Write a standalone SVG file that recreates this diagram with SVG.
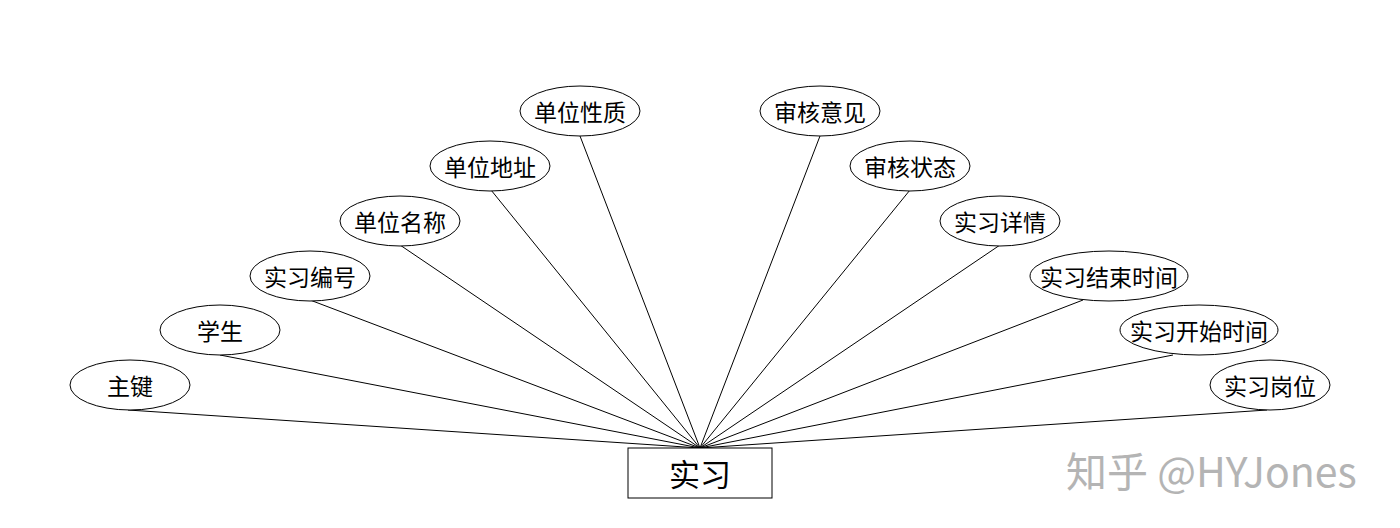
<svg xmlns="http://www.w3.org/2000/svg" width="1400" height="528" viewBox="0 0 1400 528">
<style>
.attr ellipse{fill:#fff;stroke:#000;stroke-width:1}
.attr text{font-family:"Noto Sans CJK SC","Noto Sans",sans-serif;font-size:23px;fill:#000;text-anchor:middle;dominant-baseline:central}
.conn line{stroke:#000;stroke-width:1}
</style>
<rect width="1400" height="528" fill="#fff"/>
<g id="connectors" class="conn">
<line x1="128" y1="410" x2="700" y2="448"/>
<line x1="220" y1="355" x2="700" y2="448"/>
<line x1="310" y1="300" x2="700" y2="448"/>
<line x1="400" y1="245" x2="700" y2="448"/>
<line x1="491" y1="190" x2="700" y2="448"/>
<line x1="580" y1="136" x2="700" y2="448"/>
<line x1="820" y1="136" x2="700" y2="448"/>
<line x1="910" y1="190" x2="700" y2="448"/>
<line x1="1000" y1="245" x2="700" y2="448"/>
<line x1="1083" y1="300" x2="700" y2="448"/>
<line x1="1173" y1="355" x2="700" y2="448"/>
<line x1="1267" y1="410" x2="700" y2="448"/>
</g>
<g id="n-zhujian" class="attr"><ellipse cx="130" cy="385" rx="60" ry="25"/><text x="130" y="385">主键</text></g>
<g id="n-xuesheng" class="attr"><ellipse cx="220" cy="330" rx="60" ry="25"/><text x="220" y="330">学生</text></g>
<g id="n-bianhao" class="attr"><ellipse cx="310" cy="276" rx="60" ry="25"/><text x="310" y="276">实习编号</text></g>
<g id="n-mingcheng" class="attr"><ellipse cx="400" cy="221" rx="60" ry="25"/><text x="400" y="221">单位名称</text></g>
<g id="n-dizhi" class="attr"><ellipse cx="490" cy="166" rx="60" ry="25"/><text x="490" y="166">单位地址</text></g>
<g id="n-xingzhi" class="attr"><ellipse cx="580" cy="111" rx="60" ry="25"/><text x="580" y="111">单位性质</text></g>
<g id="n-yijian" class="attr"><ellipse cx="820" cy="111" rx="60" ry="25"/><text x="820" y="111">审核意见</text></g>
<g id="n-zhuangtai" class="attr"><ellipse cx="910" cy="166" rx="60" ry="25"/><text x="910" y="166">审核状态</text></g>
<g id="n-xiangqing" class="attr"><ellipse cx="1000" cy="221" rx="60" ry="25"/><text x="1000" y="221">实习详情</text></g>
<g id="n-jieshu" class="attr"><ellipse cx="1109" cy="276" rx="79" ry="25"/><text x="1109" y="276">实习结束时间</text></g>
<g id="n-kaishi" class="attr"><ellipse cx="1199" cy="330" rx="79" ry="25"/><text x="1199" y="330">实习开始时间</text></g>
<g id="n-gangwei" class="attr"><ellipse cx="1270" cy="385" rx="60" ry="25"/><text x="1270" y="385">实习岗位</text></g>
<g id="n-shixi">
<rect x="628" y="448" width="144" height="50" fill="#fff" stroke="#000" stroke-width="1"/>
<text x="700" y="472" font-family="'Noto Sans CJK SC','Noto Sans',sans-serif" font-size="31" text-anchor="middle" dominant-baseline="central">实习</text>
</g>
<text x="1066" y="487" font-family="'Noto Sans CJK SC','Liberation Sans',sans-serif" font-size="41" fill="#b4b4b4">知乎 @HYJones</text>
</svg>
